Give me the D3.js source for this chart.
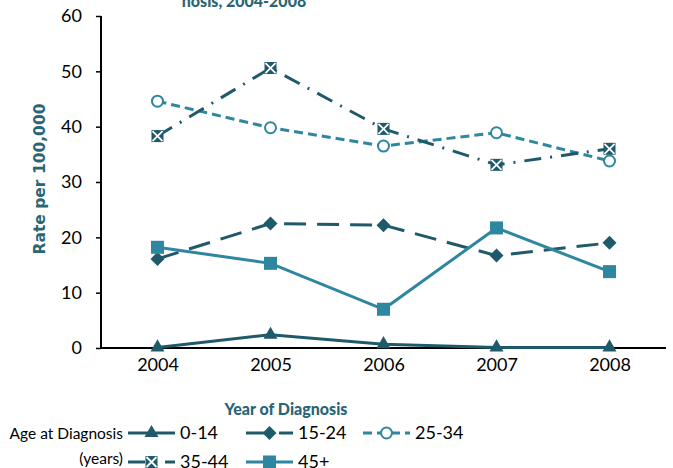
<!DOCTYPE html>
<html>
<head>
<meta charset="utf-8">
<script src="https://cdn.jsdelivr.net/npm/d3@7"></script>
<style>
  body { margin: 0; background: #fff; }
  svg { display: block; }
</style>
</head>
<body>
<svg id="chart" width="673" height="468"></svg>
<script>
const years = ["2004", "2005", "2006", "2007", "2008"];
const yTicks = [0, 10, 20, 30, 40, 50, 60];
const age0_14  = [0.1, 2.4, 0.7, 0.1, 0.1];
const age15_24 = [16.1, 22.5, 22.2, 16.7, 19.0];
const age25_34 = [44.6, 39.8, 36.5, 38.9, 33.8];
const age35_44 = [38.3, 50.6, 39.6, 33.1, 36.0];
const age45p   = [18.2, 15.3, 7.0, 21.7, 13.8];
const seriesNames = ["0-14", "15-24", "25-34", "35-44", "45+"];

const DARK = "#1f5a6a", LIGHT = "#2e86a0", TEAL_TXT = "#2a6575";
const series = [
  { name: seriesNames[0], values: age0_14,  color: DARK,  dash: null,        marker: "triangle" },
  { name: seriesNames[1], values: age15_24, color: DARK,  dash: "22,11",     marker: "diamond" },
  { name: seriesNames[2], values: age25_34, color: LIGHT, dash: "9,5",       marker: "circle" },
  { name: seriesNames[3], values: age35_44, color: DARK,  dash: "17,9,2,9",  marker: "xsquare" },
  { name: seriesNames[4], values: age45p,   color: LIGHT, dash: null,        marker: "square" }
];

const svg = d3.select("#chart");
const font = "Lato, 'Noto Sans', sans-serif";
const wideFont = "'DejaVu Sans', sans-serif";
const m = { left: 101, right: 666, top: 16, bottom: 348 };

const x = d3.scalePoint().domain(years).range([m.left, m.right]).padding(0.5);
const y = d3.scaleLinear().domain([0, 60]).range([m.bottom, m.top]);

// Title (partially cut off at top)
svg.append("text").attr("x", 244).attr("y", 7).attr("text-anchor", "middle")
  .attr("font-family", font).attr("font-weight", 900).attr("font-size", 16)
  .attr("fill", TEAL_TXT).text("nosis, 2004-2008");

// Y axis
const yAxis = svg.append("g").attr("transform", `translate(${m.left},0)`)
  .call(d3.axisLeft(y).tickValues(yTicks).tickSize(5).tickPadding(14));
yAxis.select(".domain").attr("stroke", "#000").attr("stroke-width", 2).attr("d", `M0,${m.top}V${m.bottom}`);
yAxis.selectAll(".tick line").attr("stroke", "#000").attr("stroke-width", 1.5);
yAxis.selectAll(".tick text").attr("font-family", font).attr("font-size", 18).attr("fill", "#000");

// X axis
const xAxis = svg.append("g").attr("transform", `translate(0,${m.bottom})`)
  .call(d3.axisBottom(x).tickSize(0).tickPadding(10));
xAxis.select(".domain").attr("stroke", "#000").attr("stroke-width", 2).attr("d", `M${m.left},0H${m.right}`);
xAxis.selectAll(".tick text").attr("font-family", font).attr("font-size", 18).attr("fill", "#000");

// Axis titles
svg.append("text").attr("transform", "translate(45,179) rotate(-90)").attr("text-anchor", "middle")
  .attr("font-family", wideFont).attr("font-weight", "bold").attr("font-size", 15.5)
  .attr("fill", TEAL_TXT).text("Rate per 100,000");
svg.append("text").attr("x", 286).attr("y", 415).attr("text-anchor", "middle")
  .attr("font-family", font).attr("font-weight", 900).attr("font-size", 16)
  .attr("fill", TEAL_TXT).text("Year of Diagnosis");

function drawMarker(g, type, cx, cy, color) {
  if (type === "triangle") {
    g.append("path").attr("d", d3.symbol().type(d3.symbolTriangle).size(85)())
      .attr("transform", `translate(${cx},${cy})`).attr("fill", color);
  } else if (type === "diamond") {
    const s = 7;
    g.append("path").attr("d", `M${cx},${cy - s}L${cx + s},${cy}L${cx},${cy + s}L${cx - s},${cy}Z`).attr("fill", color);
  } else if (type === "circle") {
    g.append("circle").attr("cx", cx).attr("cy", cy).attr("r", 5.5)
      .attr("fill", "#fff").attr("stroke", color).attr("stroke-width", 2);
  } else if (type === "xsquare") {
    const s = 6;
    g.append("rect").attr("x", cx - s).attr("y", cy - s).attr("width", 2 * s).attr("height", 2 * s).attr("fill", color);
    g.append("path").attr("d", `M${cx - s + 1},${cy - s + 1}L${cx + s - 1},${cy + s - 1}M${cx + s - 1},${cy - s + 1}L${cx - s + 1},${cy + s - 1}`)
      .attr("stroke", "#fff").attr("stroke-width", 1.8);
  } else if (type === "square") {
    const s = 6.5;
    g.append("rect").attr("x", cx - s).attr("y", cy - s).attr("width", 2 * s).attr("height", 2 * s).attr("fill", color);
  }
}

const line = d3.line().x((d, i) => x(years[i])).y(d => y(d));
const plot = svg.append("g");
series.forEach(s => {
  plot.append("path").datum(s.values).attr("d", line)
    .attr("fill", "none").attr("stroke", s.color).attr("stroke-width", 3)
    .attr("stroke-dasharray", s.dash);
});
series.forEach(s => {
  const g = plot.append("g");
  s.values.forEach((v, i) => drawMarker(g, s.marker, x(years[i]), y(v), s.color));
});

// Legend
svg.append("text").attr("x", 123).attr("y", 439).attr("text-anchor", "end")
  .attr("font-family", font).attr("font-size", 15.5).attr("fill", "#000").text("Age at Diagnosis");
svg.append("text").attr("x", 123).attr("y", 464).attr("text-anchor", "end")
  .attr("font-family", font).attr("font-size", 15.5).attr("fill", "#000").text("(years)");
const legPos = [[128, 433], [246, 433], [363, 433], [128, 462], [246, 462]];
series.forEach((s, i) => {
  const [lx, ly] = legPos[i];
  const g = svg.append("g");
  g.append("line").attr("x1", lx).attr("x2", lx + 47).attr("y1", ly).attr("y2", ly)
    .attr("stroke", s.color).attr("stroke-width", 3).attr("stroke-dasharray", s.dash);
  drawMarker(g, s.marker, lx + 23.5, ly, s.color);
  g.append("text").attr("x", lx + 52).attr("y", ly + 6).attr("font-family", font)
    .attr("font-size", 18).attr("fill", "#000").text(s.name);
});
</script>
</body>
</html>
